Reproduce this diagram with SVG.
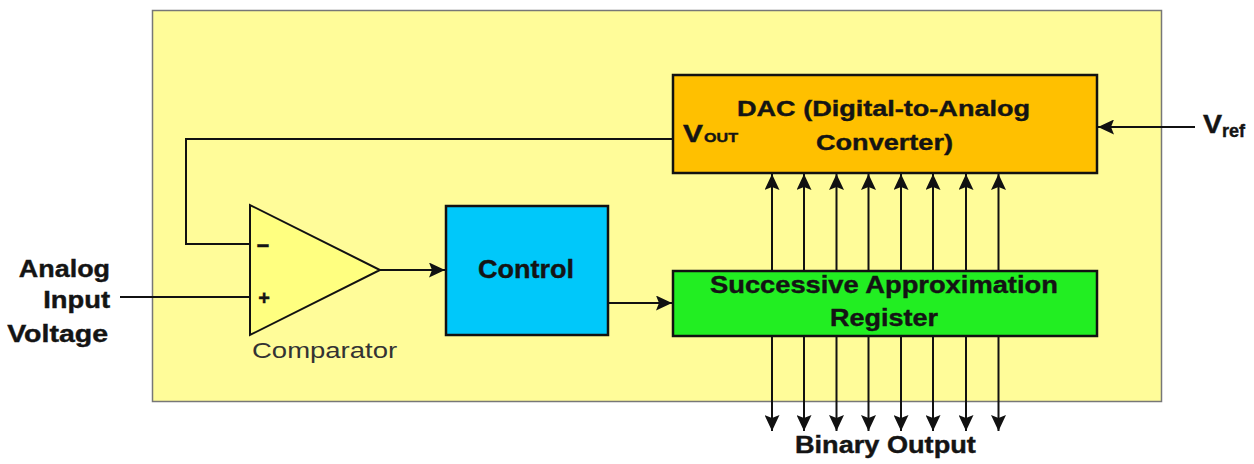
<svg xmlns="http://www.w3.org/2000/svg" width="1254" height="464" viewBox="0 0 1254 464">
<style>
  .box{stroke:#111;stroke-width:2.5}
  .wire{fill:none;stroke:#111;stroke-width:2}
  .arr{fill:none;stroke:#111;stroke-width:2;marker-end:url(#ah)}
  .b{font-family:"Liberation Sans",Arial,sans-serif;font-weight:bold;fill:#141414;stroke:#141414;stroke-width:0.4}
  .r{font-family:"Liberation Sans",Arial,sans-serif;fill:#333}
</style>
<defs>
  <marker id="ah" markerUnits="userSpaceOnUse" markerWidth="16" markerHeight="15" refX="16" refY="7.5" orient="auto">
    <path d="M0,0 L16,7.5 L0,15 L3,7.5 z" fill="#111"/>
  </marker>
</defs>
<rect width="1254" height="464" fill="#ffffff"/>
<g id="frame">
  <rect x="152.5" y="10.5" width="1009" height="391" fill="#FFFC99" stroke="#777" stroke-width="1.5"/>
</g>
<g id="connectors">
  <polyline class="wire" points="673,139 186,139 186,244 250,244"/>
  <line class="wire" x1="120" y1="297" x2="250" y2="297"/>
  <line class="arr" x1="380" y1="270" x2="445" y2="270"/>
  <line class="arr" x1="608" y1="303" x2="672" y2="303"/>
  <line class="arr" x1="1195" y1="127" x2="1098" y2="127"/>
  <line class="arr" x1="772" y1="271" x2="772" y2="174"/>
  <line class="arr" x1="804" y1="271" x2="804" y2="174"/>
  <line class="arr" x1="836.5" y1="271" x2="836.5" y2="174"/>
  <line class="arr" x1="868.5" y1="271" x2="868.5" y2="174"/>
  <line class="arr" x1="901" y1="271" x2="901" y2="174"/>
  <line class="arr" x1="933" y1="271" x2="933" y2="174"/>
  <line class="arr" x1="966" y1="271" x2="966" y2="174"/>
  <line class="arr" x1="998.5" y1="271" x2="998.5" y2="174"/>
  <line class="arr" x1="772" y1="336" x2="772" y2="431"/>
  <line class="arr" x1="804" y1="336" x2="804" y2="431"/>
  <line class="arr" x1="836.5" y1="336" x2="836.5" y2="431"/>
  <line class="arr" x1="868.5" y1="336" x2="868.5" y2="431"/>
  <line class="arr" x1="901" y1="336" x2="901" y2="431"/>
  <line class="arr" x1="933" y1="336" x2="933" y2="431"/>
  <line class="arr" x1="966" y1="336" x2="966" y2="431"/>
  <line class="arr" x1="998.5" y1="336" x2="998.5" y2="431"/>
</g>
<g id="dac">
  <rect class="box" x="673" y="75" width="424" height="98" fill="#FFC000"/>
  <text class="b" transform="translate(737,116) scale(1.23,1)" font-size="22">DAC (Digital-to-Analog</text>
  <text class="b" transform="translate(816,150) scale(1.232,1)" font-size="22">Converter)</text>
  <text class="b" transform="translate(683,142) scale(1.3,1)" font-size="23">V</text>
  <text class="b" transform="translate(704,142) scale(1.24,1)" font-size="13">OUT</text>
</g>
<g id="comparator">
  <polygon points="250,205 250,335 380,270" fill="#FFFF80" stroke="#111" stroke-width="2"/>
  <text class="b" x="263" y="253" font-size="22" text-anchor="middle">−</text>
  <text class="b" x="264" y="305" font-size="20" text-anchor="middle">+</text>
  <text class="r" transform="translate(252,358) scale(1.25,1)" font-size="22">Comparator</text>
</g>
<g id="control">
  <rect class="box" x="446" y="206" width="162" height="129" fill="#00C8FA"/>
  <text class="b" transform="translate(478,278) scale(1.08,1)" font-size="25">Control</text>
</g>
<g id="sar">
  <rect class="box" x="673" y="271" width="424" height="65" fill="#22EE22"/>
  <text class="b" transform="translate(710,293) scale(1.187,1)" font-size="23">Successive Approximation</text>
  <text class="b" transform="translate(830,326) scale(1.174,1)" font-size="23">Register</text>
</g>
<g id="input-label">
  <text class="b" transform="translate(110,277) scale(1.17,1)" font-size="23" text-anchor="end">Analog</text>
  <text class="b" transform="translate(110,308) scale(1.19,1)" font-size="23" text-anchor="end">Input</text>
  <text class="b" transform="translate(108,342) scale(1.24,1)" font-size="23" text-anchor="end">Voltage</text>
</g>
<g id="vref-label">
  <text class="b" transform="translate(1203,133) scale(1.1,1)" font-size="26">V</text>
  <text class="b" x="1222" y="137" font-size="18">ref</text>
</g>
<g id="output-label">
  <text class="b" transform="translate(795,453) scale(1.18,1)" font-size="23">Binary Output</text>
</g>
</svg>
